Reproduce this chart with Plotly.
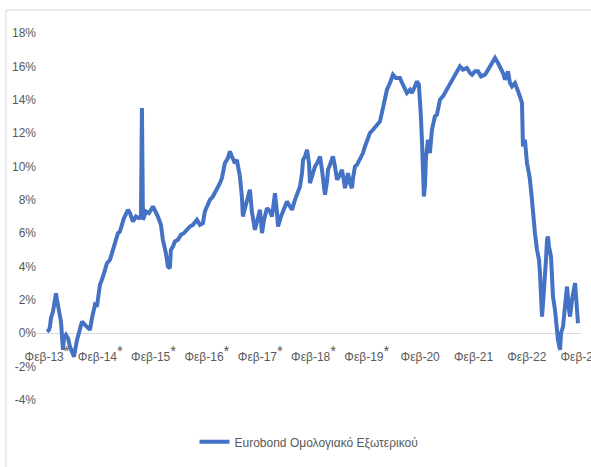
import pandas as pd
import plotly.graph_objects as go

years = [
    2013.083, 2013.121, 2013.139, 2013.158, 2013.196, 2013.233, 2013.252, 2013.271, 2013.308, 2013.346,
    2013.383, 2013.402, 2013.439, 2013.477, 2013.514, 2013.552, 2013.590, 2013.646, 2013.702, 2013.740,
    2013.796, 2013.852, 2013.890, 2013.927, 2013.983, 2014.021, 2014.077, 2014.134, 2014.209, 2014.265,
    2014.321, 2014.359, 2014.415, 2014.452, 2014.527, 2014.603, 2014.640, 2014.696, 2014.753, 2014.809,
    2014.846, 2014.865, 2014.884, 2014.940, 2014.997, 2015.072, 2015.128, 2015.165, 2015.222, 2015.259,
    2015.315, 2015.353, 2015.390, 2015.409, 2015.447, 2015.484, 2015.541, 2015.597, 2015.653, 2015.709,
    2015.766, 2015.822, 2015.897, 2015.953, 2016.010, 2016.047, 2016.085, 2016.141, 2016.197, 2016.272,
    2016.329, 2016.366, 2016.422, 2016.479, 2016.516, 2016.554, 2016.610, 2016.647, 2016.704, 2016.741,
    2016.760, 2016.798, 2016.835, 2016.891, 2016.929, 2016.985, 2017.023, 2017.079, 2017.116, 2017.154,
    2017.210, 2017.267, 2017.304, 2017.360, 2017.398, 2017.417, 2017.473, 2017.529, 2017.585, 2017.642,
    2017.679, 2017.735, 2017.773, 2017.829, 2017.867, 2017.886, 2017.923, 2017.961, 2017.998, 2018.017,
    2018.055, 2018.111, 2018.167, 2018.205, 2018.242, 2018.298, 2018.336, 2018.355, 2018.392, 2018.449,
    2018.486, 2018.524, 2018.561, 2018.617, 2018.655, 2018.674, 2018.711, 2018.730, 2018.767, 2018.805,
    2018.824, 2018.861, 2018.899, 2018.955, 2019.011, 2019.049, 2019.105, 2019.142, 2019.199, 2019.274,
    2019.330, 2019.386, 2019.424, 2019.461, 2019.518, 2019.574, 2019.630, 2019.705, 2019.761, 2019.836,
    2019.893, 2019.930, 2019.986, 2020.024, 2020.061, 2020.080, 2020.099, 2020.118, 2020.137, 2020.155,
    2020.174, 2020.193, 2020.231, 2020.249, 2020.268, 2020.306, 2020.362, 2020.400, 2020.456, 2020.512,
    2020.587, 2020.643, 2020.700, 2020.775, 2020.831, 2020.887, 2020.962, 2021.018, 2021.056, 2021.112,
    2021.168, 2021.225, 2021.300, 2021.356, 2021.393, 2021.450, 2021.487, 2021.543, 2021.581, 2021.637,
    2021.675, 2021.712, 2021.731, 2021.768, 2021.806, 2021.862, 2021.899, 2021.955, 2021.993, 2022.012,
    2022.049, 2022.087, 2022.124, 2022.143, 2022.181, 2022.200, 2022.237, 2022.275, 2022.313, 2022.331,
    2022.350, 2022.369, 2022.388, 2022.425, 2022.444, 2022.463, 2022.481, 2022.500, 2022.538, 2022.557,
    2022.575, 2022.613, 2022.651, 2022.669, 2022.707, 2022.726, 2022.763, 2022.801, 2022.838, 2022.876,
    2022.895, 2022.932, 2022.989, 2023.008, 2023.045,
]

# return (%)
values = [
    0.1, 0.2, 0.4, 0.9, 1.3, 2.2, 2.4, 2.0, 1.4, 0.7,
    -1.0, -0.3, -0.1, -0.3, -0.8, -1.1, -1.4, -0.4, 0.2, 0.7,
    0.5, 0.3, 0.2, 0.9, 1.7, 1.6, 2.9, 3.4, 4.2, 4.4,
    5.0, 5.6, 6.0, 6.1, 6.9, 7.4, 7.2, 6.7, 7.0, 6.9,
    7.0, 13.5, 6.8, 7.3, 7.2, 7.6, 7.3, 7.0, 6.5, 5.6,
    4.8, 4.0, 3.9, 5.0, 5.2, 5.5, 5.6, 5.9, 6.0, 6.2,
    6.4, 6.5, 6.8, 6.5, 6.6, 7.3, 7.6, 8.0, 8.2, 8.6,
    9.0, 9.3, 10.2, 10.5, 10.9, 10.6, 10.2, 10.4, 9.4, 8.2,
    7.0, 7.5, 7.9, 8.6, 7.3, 6.2, 6.7, 7.4, 6.0, 6.8,
    7.5, 7.3, 7.0, 8.4, 7.2, 6.4, 7.0, 7.4, 7.9, 7.6,
    7.4, 8.0, 8.4, 8.8, 9.6, 10.4, 10.6, 11.0, 10.2, 9.0,
    9.4, 10.0, 10.3, 10.6, 9.8, 8.3, 9.1, 9.8, 10.1, 10.6,
    10.0, 9.2, 9.4, 9.8, 9.1, 8.7, 9.3, 9.6, 9.0, 8.7,
    9.3, 10.0, 10.1, 10.4, 10.8, 11.2, 11.6, 12.0, 12.2, 12.5,
    12.7, 13.5, 14.0, 14.6, 15.0, 15.5, 15.3, 15.3, 14.9, 14.4,
    14.6, 14.4, 14.8, 15.1, 14.9, 14.2, 13.0, 11.6, 8.4, 8.2,
    8.8, 10.5, 11.6, 11.0, 10.8, 12.2, 13.0, 13.1, 14.0, 14.2,
    14.6, 15.0, 15.2, 15.6, 16.0, 15.8, 15.9, 15.6, 15.5, 15.7,
    15.7, 15.4, 15.5, 15.8, 16.0, 16.3, 16.5, 16.2, 16.0, 15.6,
    15.2, 15.5, 15.7, 15.0, 14.8, 15.0, 14.6, 14.2, 13.8, 11.2,
    11.6, 10.2, 9.6, 9.2, 8.0, 7.2, 6.0, 5.0, 4.4, 3.6,
    2.0, 1.0, 1.8, 3.2, 4.4, 5.6, 5.8, 5.2, 4.6, 3.4,
    2.2, 1.4, 0.0, -0.4, -1.0, 0.0, 0.4, 1.6, 2.8, 1.4,
    1.0, 2.0, 3.0, 2.2, 0.6,
]

STAR = "<sup><span style='font-size:15px'>*</span></sup>"
tick_dates = ["2013-02-01", "2014-02-01", "2015-02-01", "2016-02-01", "2017-02-01",
              "2018-02-01", "2019-02-01", "2020-02-01", "2021-02-01", "2022-02-01",
              "2023-02-01"]
tick_labels = ["Φεβ-13" + STAR, "Φεβ-14" + STAR, "Φεβ-15" + STAR,
               "Φεβ-16" + STAR, "Φεβ-17" + STAR, "Φεβ-18" + STAR,
               "Φεβ-19" + STAR, "Φεβ-20", "Φεβ-21", "Φεβ-22", "Φεβ-23"]
y_ticks = [-4, -2, 0, 2, 4, 6, 8, 10, 12, 14, 16, 18]
y_labels = [f"{v}%" for v in y_ticks]
series_name = "Eurobond Ομολογιακό Εξωτερικού"


def to_date(y):
    yr = int(y)
    start = pd.Timestamp(year=yr, month=1, day=1)
    return start + pd.Timedelta(days=(y - yr) * 365.25)


dates = [to_date(y) for y in years]

FONT = "Liberation Sans Narrow, Arial Narrow, Liberation Sans, Arial, sans-serif"
GRAY = "#595959"

fig = go.Figure()
fig.add_trace(go.Scatter(
    x=dates, y=values, mode="lines", name=series_name,
    line=dict(color="#4472C4", width=4),
))

fig.update_layout(
    width=591, height=467,
    margin=dict(l=37, r=10, t=33, b=67, autoexpand=False),
    paper_bgcolor="white", plot_bgcolor="white",
    font=dict(family=FONT, size=12, color=GRAY),
    showlegend=True,
    legend=dict(orientation="h", x=0.5, xanchor="center", y=-0.114, yanchor="middle",
                font=dict(family=FONT, size=12, color=GRAY)),
    xaxis=dict(
        type="date", range=["2012-11-24", "2023-02-07"],
        tickvals=tick_dates, ticktext=tick_labels,
        anchor="free", position=4 / 22, automargin=False,
        showgrid=False, zeroline=False, showline=False,
        ticks="", ticklabelstandoff=15, ticklabeloverflow="allow",
        tickfont=dict(family=FONT, size=12, color=GRAY),
    ),
    yaxis=dict(
        range=[-4, 18], tickvals=y_ticks, ticktext=y_labels, automargin=False,
        showgrid=False, zeroline=True, zerolinecolor="#d9d9d9", zerolinewidth=1,
        showline=False, ticks="",
        tickfont=dict(family=FONT, size=12, color=GRAY),
    ),
    shapes=[dict(type="rect", xref="paper", yref="paper",
                 x0=-0.057, x1=1.5, y0=-0.5, y1=1.0627,
                 line=dict(color="#d9d9d9", width=1), fillcolor="rgba(0,0,0,0)",
                 layer="below")],
)

fig.write_html("out.html", config={"displayModeBar": False},
               post_script="document.body.style.margin='0';document.body.style.overflow='hidden';")
